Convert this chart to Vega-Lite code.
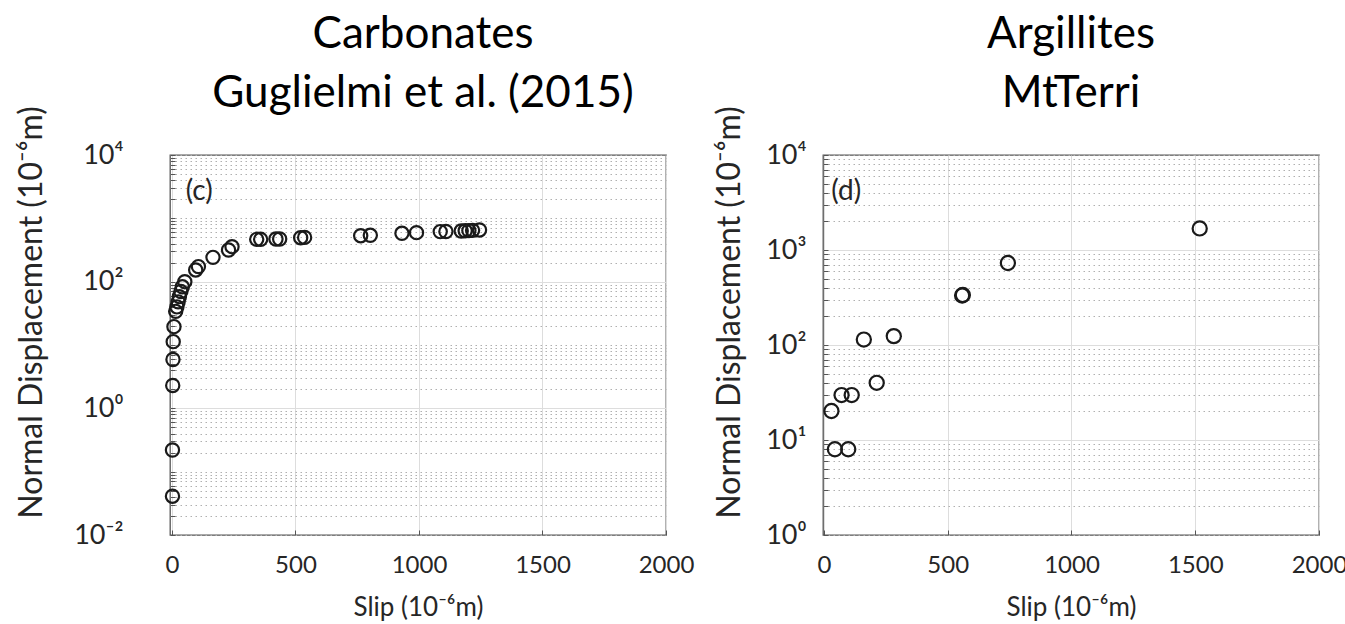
{
  "$schema": "https://vega.github.io/schema/vega-lite/v6.json",
  "background": "white",
  "padding": {"left": 14, "top": 12, "right": 0, "bottom": 0},
  "config": {
    "font": "Lato",
    "view": {"stroke": "#555555", "strokeWidth": 1.3},
    "axis": {
      "labelFont": "Lato", "titleFont": "Lato", "labelColor": "#262626", "titleColor": "#262626",
      "titleFontWeight": "normal", "domain": false, "tickColor": "#555555", "tickSize": -5,
      "labelFontSize": 24, "titleFontSize": 32, "gridWidth": 1
    },
    "title": {"font": "Lato", "fontWeight": "normal", "color": "#000000", "fontSize": 44}
  },
  "datasets": {
    "carbonates": [
      {"slip": 2, "normal_displacement": 0.041},
      {"slip": 2, "normal_displacement": 0.22},
      {"slip": 3, "normal_displacement": 2.3},
      {"slip": 4, "normal_displacement": 5.9},
      {"slip": 5, "normal_displacement": 11.3},
      {"slip": 8, "normal_displacement": 19.5},
      {"slip": 15, "normal_displacement": 34},
      {"slip": 20, "normal_displacement": 40},
      {"slip": 25, "normal_displacement": 48},
      {"slip": 30, "normal_displacement": 58},
      {"slip": 36, "normal_displacement": 70},
      {"slip": 42, "normal_displacement": 83},
      {"slip": 52, "normal_displacement": 100},
      {"slip": 96, "normal_displacement": 153},
      {"slip": 107, "normal_displacement": 173},
      {"slip": 166, "normal_displacement": 242},
      {"slip": 229, "normal_displacement": 316},
      {"slip": 243, "normal_displacement": 357},
      {"slip": 343, "normal_displacement": 466},
      {"slip": 359, "normal_displacement": 466},
      {"slip": 421, "normal_displacement": 472},
      {"slip": 436, "normal_displacement": 472},
      {"slip": 521, "normal_displacement": 495},
      {"slip": 537, "normal_displacement": 500},
      {"slip": 764, "normal_displacement": 532},
      {"slip": 803, "normal_displacement": 540},
      {"slip": 931, "normal_displacement": 580},
      {"slip": 990, "normal_displacement": 594},
      {"slip": 1086, "normal_displacement": 617},
      {"slip": 1109, "normal_displacement": 620},
      {"slip": 1171, "normal_displacement": 631},
      {"slip": 1187, "normal_displacement": 635},
      {"slip": 1202, "normal_displacement": 640},
      {"slip": 1217, "normal_displacement": 646},
      {"slip": 1245, "normal_displacement": 655}
    ],
    "argillites": [
      {"slip": 30, "normal_displacement": 20.2},
      {"slip": 44, "normal_displacement": 8},
      {"slip": 98, "normal_displacement": 8},
      {"slip": 71, "normal_displacement": 29.7},
      {"slip": 112, "normal_displacement": 29.7},
      {"slip": 213, "normal_displacement": 40},
      {"slip": 161, "normal_displacement": 114},
      {"slip": 282, "normal_displacement": 124},
      {"slip": 558, "normal_displacement": 332},
      {"slip": 561, "normal_displacement": 336},
      {"slip": 743, "normal_displacement": 729},
      {"slip": 1518, "normal_displacement": 1686}
    ],
    "label_c": [{"label": "(c)", "slip": 110, "normal_displacement": 2560}],
    "label_d": [{"label": "(d)", "slip": 90, "normal_displacement": 4100}]
  },
  "bounds": "flush",
  "spacing": 157,
  "hconcat": [
    {
      "width": 496,
      "height": 380,
      "title": {"text": ["Carbonates", "Guglielmi et al. (2015)"], "lineHeight": 59, "anchor": "middle", "frame": "group", "offset": -10, "dx": 5},
      "layer": [
        {
          "data": {"name": "carbonates"},
          "mark": {"type": "point", "shape": "circle", "filled": false, "size": 175, "strokeWidth": 2.2, "color": "#1a1a1a", "opacity": 1},
          "encoding": {
            "x": {
              "field": "slip", "type": "quantitative",
              "scale": {"domain": [-8, 2000], "nice": false, "zero": false},
              "axis": {
                "title": "Slip (10⁻⁶m)",
                "values": [0, 500, 1000, 1500, 2000],
                "format": "d",
                "labelFlush": false, "labelPadding": 42, "labelBaseline": "alphabetic",
                "gridColor": "#dddddd",
                "titleFontSize": 26,
                "titleBaseline": "alphabetic", "titleY": 80
              }
            },
            "y": {
              "field": "normal_displacement", "type": "quantitative",
              "scale": {"type": "log", "domain": [0.01, 10000], "nice": false},
              "axis": {
                "title": "Normal Displacement (10⁻⁶m)",
                "values": [0.01, 0.02, 0.03, 0.04, 0.05, 0.06, 0.07, 0.08, 0.09, 0.1, 0.2, 0.3, 0.4, 0.5, 0.6, 0.7, 0.8, 0.9, 1, 2, 3, 4, 5, 6, 7, 8, 9, 10, 20, 30, 40, 50, 60, 70, 80, 90, 100, 200, 300, 400, 500, 600, 700, 800, 900, 1000, 2000, 3000, 4000, 5000, 6000, 7000, 8000, 9000, 10000],
                "labelExpr": "datum.value == 10000 ? '10⁴' : datum.value == 100 ? '10²' : datum.value == 1 ? '10⁰' : datum.value == 0.01 ? '10⁻²' : ''",
                "labelOverlap": false,
                "labelFontSize": 27,
                "labelPadding": 52,
                "gridDash": {"condition": {"test": "datum.value == 1 || datum.value == 100", "value": []}, "value": [1.5, 3.5]},
                "gridColor": {"condition": {"test": "datum.value == 1 || datum.value == 100", "value": "#dddddd"}, "value": "#b0b0b0"},
                "titleX": -122, "titleY": 157, "titleAngle": -90, "titleAlign": "center", "titleBaseline": "bottom"
              }
            }
          }
        },
        {
          "data": {"name": "label_c"},
          "mark": {"type": "text", "fontSize": 28, "color": "#262626", "align": "center", "baseline": "middle"},
          "encoding": {
            "x": {"field": "slip", "type": "quantitative"},
            "y": {"field": "normal_displacement", "type": "quantitative"},
            "text": {"field": "label"}
          }
        }
      ]
    },
    {
      "width": 496,
      "height": 380,
      "title": {"text": ["Argillites", "MtTerri"], "lineHeight": 59, "anchor": "middle", "frame": "group", "offset": -10},
      "layer": [
        {
          "data": {"name": "argillites"},
          "mark": {"type": "point", "shape": "circle", "filled": false, "size": 200, "strokeWidth": 2.2, "color": "#1a1a1a", "opacity": 1},
          "encoding": {
            "x": {
              "field": "slip", "type": "quantitative",
              "scale": {"domain": [-4, 2000], "nice": false, "zero": false},
              "axis": {
                "title": "Slip (10⁻⁶m)",
                "values": [0, 500, 1000, 1500, 2000],
                "format": "d",
                "labelFlush": false, "labelPadding": 42, "labelBaseline": "alphabetic",
                "gridColor": "#dddddd",
                "titleFontSize": 26,
                "titleBaseline": "alphabetic", "titleY": 80
              }
            },
            "y": {
              "field": "normal_displacement", "type": "quantitative",
              "scale": {"type": "log", "domain": [1, 10000], "nice": false},
              "axis": {
                "title": "Normal Displacement (10⁻⁶m)",
                "values": [1, 2, 3, 4, 5, 6, 7, 8, 9, 10, 20, 30, 40, 50, 60, 70, 80, 90, 100, 200, 300, 400, 500, 600, 700, 800, 900, 1000, 2000, 3000, 4000, 5000, 6000, 7000, 8000, 9000, 10000],
                "labelExpr": "datum.value == 10000 ? '10⁴' : datum.value == 1000 ? '10³' : datum.value == 100 ? '10²' : datum.value == 10 ? '10¹' : datum.value == 1 ? '10⁰' : ''",
                "labelOverlap": false,
                "labelFontSize": 27,
                "labelPadding": 22,
                "gridDash": {"condition": {"test": "datum.value == 10 || datum.value == 100 || datum.value == 1000", "value": []}, "value": [1.5, 3.5]},
                "gridColor": {"condition": {"test": "datum.value == 10 || datum.value == 100 || datum.value == 1000", "value": "#dddddd"}, "value": "#b0b0b0"},
                "titleX": -77, "titleY": 157, "titleAngle": -90, "titleAlign": "center", "titleBaseline": "bottom"
              }
            }
          }
        },
        {
          "data": {"name": "label_d"},
          "mark": {"type": "text", "fontSize": 28, "color": "#262626", "align": "center", "baseline": "middle"},
          "encoding": {
            "x": {"field": "slip", "type": "quantitative"},
            "y": {"field": "normal_displacement", "type": "quantitative"},
            "text": {"field": "label"}
          }
        }
      ]
    }
  ]
}
